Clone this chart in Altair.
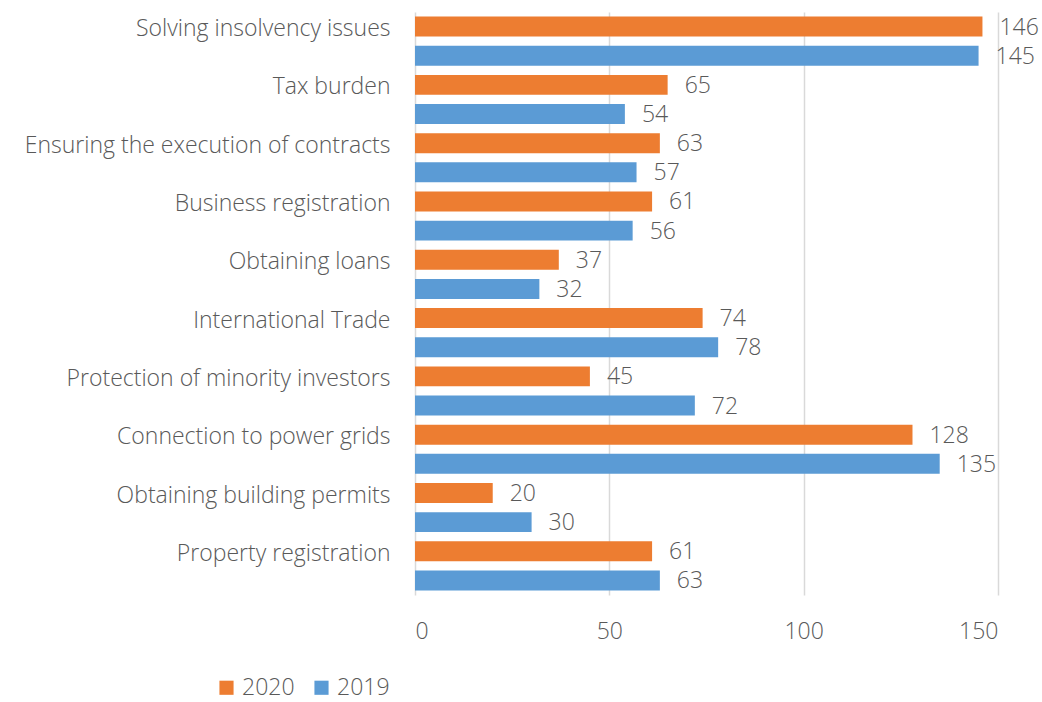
import altair as alt
import pandas as pd

categories = [
    "Solving insolvency issues",
    "Tax burden",
    "Ensuring the execution of contracts",
    "Business registration",
    "Obtaining loans",
    "International Trade",
    "Protection of minority investors",
    "Connection to power grids",
    "Obtaining building permits",
    "Property registration",
]
values_2020 = [146, 65, 63, 61, 37, 74, 45, 128, 20, 61]
values_2019 = [145, 54, 57, 56, 32, 78, 72, 135, 30, 63]
series = ["2020", "2019"]
colors = ["#ED7D31", "#5B9BD5"]

rows = []
for c, a, b in zip(categories, values_2020, values_2019):
    rows.append({"category": c, "year": "2020", "value": a})
    rows.append({"category": c, "year": "2019", "value": b})
df = pd.DataFrame(rows)

FONT = "Open Sans"
TXT = "#595959"
FS = 23
FW = 300

y_enc = alt.Y("category:N", sort=categories,
              scale=alt.Scale(paddingInner=0, paddingOuter=0),
              axis=alt.Axis(title=None, ticks=False, domain=False, labelFont=FONT,
                            labelFontSize=FS, labelFontWeight=FW, labelColor=TXT,
                            labelPadding=25, labelOffset=-12, labelLimit=500))
yoff = alt.YOffset("year:N", sort=series,
                   scale=alt.Scale(paddingInner=0.314, paddingOuter=0.157))
x_enc = alt.X("value:Q", scale=alt.Scale(domain=[0, 150], nice=False),
              axis=alt.Axis(title=None, values=[0, 50, 100, 150], ticks=False,
                            domain=False, grid=True, gridColor="#D9D9D9",
                            gridWidth=1.5, labelFont=FONT, labelFontSize=FS,
                            labelFontWeight=FW, labelColor=TXT, labelPadding=25))

base = alt.Chart(df)

bars = base.mark_bar().encode(
    y=y_enc,
    yOffset=yoff,
    x=x_enc,
    color=alt.Color("year:N", sort=series,
                    scale=alt.Scale(domain=series, range=colors),
                    legend=alt.Legend(title=None, orient="none", direction="horizontal",
                                      legendX=-200, legendY=664, symbolType="square",
                                      symbolSize=200, symbolStrokeWidth=0,
                                      labelFont=FONT, labelFontSize=FS,
                                      labelFontWeight=FW,
                                      labelColor=TXT, columnPadding=15,
                                      symbolOpacity=1)),
)

txt_style = dict(align="left", baseline="middle", font=FONT, fontSize=FS,
                 fontWeight=FW, color=TXT)

labels = base.mark_text(dx=17, dy=1, **txt_style).encode(
    y=y_enc, yOffset=yoff, x=x_enc, text="value:Q")

chart = alt.layer(bars, labels).properties(
    width=583, height=583,
    background="white",
    padding={"left": 415, "top": 12, "right": 44, "bottom": 107},
    autosize=alt.AutoSizeParams(type="none"),
).configure_view(stroke=None)

chart.save("out.html", embed_options={"renderer": "svg", "actions": False})
